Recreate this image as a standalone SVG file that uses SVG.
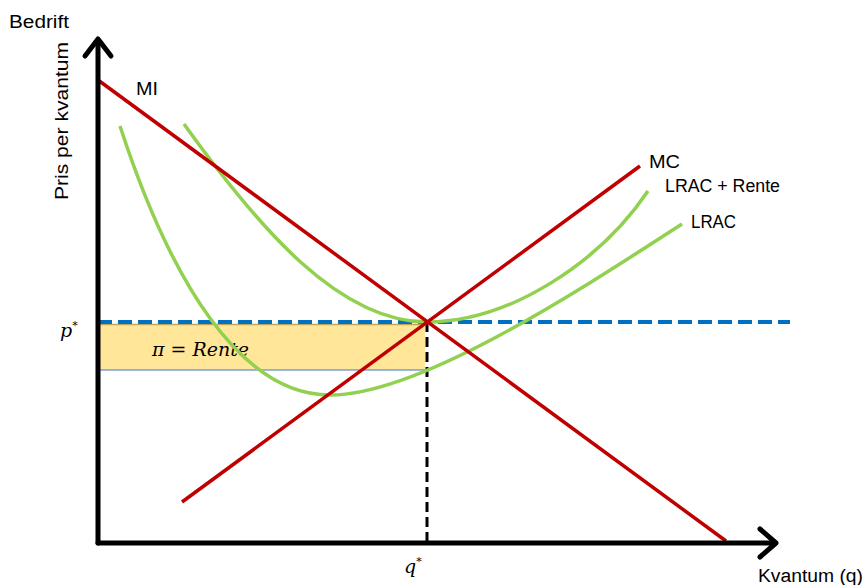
<svg xmlns="http://www.w3.org/2000/svg" width="866" height="585" viewBox="0 0 866 585">
<style>
.lbl{font-family:"Liberation Sans",Arial,sans-serif;font-size:18px;fill:#000}
.math{font-family:"DejaVu Serif","Liberation Serif",serif;font-style:italic;fill:#000}
.red{fill:none;stroke:#C00000;stroke-width:3.5}
.green{fill:none;stroke:#92D050;stroke-width:3.5}
.axis{fill:none;stroke:#000;stroke-width:5;stroke-linecap:round;stroke-linejoin:round}
</style>
<rect width="866" height="585" fill="#fff"/>
<g id="rente-area">
<rect x="100" y="324" width="325" height="46" fill="#FFE699"/>
<line x1="100" y1="324.5" x2="425" y2="324.5" stroke="#bfa760" stroke-width="1.5"/>
<line x1="100" y1="370" x2="425" y2="370" stroke="#4472C4" stroke-width="1"/>
<text class="math" x="152" y="356" font-size="19" textLength="97" lengthAdjust="spacingAndGlyphs">π = Rente</text>
</g>
<g id="connectors">
<line x1="98" y1="322" x2="790" y2="322" stroke="#0070C0" stroke-width="4" stroke-dasharray="14,6"/>
<line x1="427" y1="322" x2="427" y2="543" stroke="#000" stroke-width="3" stroke-dasharray="10,5"/>
</g>
<g id="lrac-rente"><path class="green" d="M184,124 C260,230 340,322 427,322 C510,322 600,262 648,191"/></g>
<g id="lrac"><path class="green" d="M120,126 C170,280 240,395 330,395 C420,395 580,290 682,224"/></g>
<g id="mi"><line class="red" x1="98" y1="80" x2="726" y2="541"/></g>
<g id="mc"><line class="red" x1="182" y1="502" x2="640" y2="166"/></g>
<g id="axes">
<line class="axis" x1="98" y1="543" x2="98" y2="40"/>
<polyline class="axis" points="85,56 98,39 111,56"/>
<line class="axis" x1="98" y1="543" x2="775" y2="543"/>
<polyline class="axis" points="760,529 776,543 760,557"/>
</g>
<g id="labels">
<text class="lbl" x="9" y="28" textLength="60" lengthAdjust="spacingAndGlyphs">Bedrift</text>
<text class="lbl" transform="translate(68,200) rotate(-90)" textLength="158" lengthAdjust="spacingAndGlyphs">Pris per kvantum</text>
<text class="lbl" x="136" y="95" textLength="22" lengthAdjust="spacingAndGlyphs">MI</text>
<text class="lbl" x="649" y="168" textLength="31" lengthAdjust="spacingAndGlyphs">MC</text>
<text class="lbl" x="665" y="192" textLength="115" lengthAdjust="spacingAndGlyphs">LRAC + Rente</text>
<text class="lbl" x="691" y="228" textLength="45" lengthAdjust="spacingAndGlyphs">LRAC</text>
<text class="lbl" x="758" y="582" textLength="105" lengthAdjust="spacingAndGlyphs">Kvantum (q)</text>
<text class="math" x="60" y="337" font-size="19">p<tspan font-size="11" dy="-8">*</tspan></text>
<text class="math" x="404" y="573" font-size="19">q<tspan font-size="11" dy="-8">*</tspan></text>
</g>
</svg>
